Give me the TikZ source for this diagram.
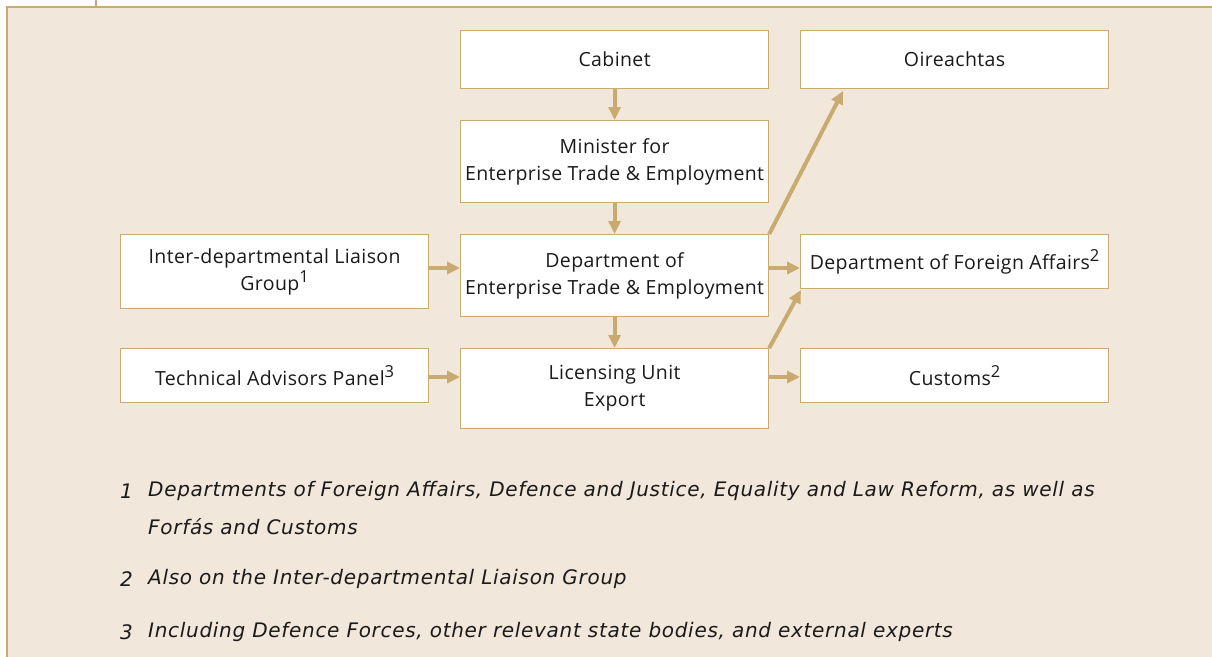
\documentclass[tikz,border=0pt]{standalone}
\usepackage{fontspec}
\setmainfont{Open Sans}
\newfontfamily\notefont{DejaVu Sans}
\usetikzlibrary{arrows.meta}
\definecolor{paper}{HTML}{F1E7DA}
\definecolor{tan}{HTML}{C9AA70}
\definecolor{ink}{HTML}{1A1A1A}
% raised footnote mark inside the boxes
\newcommand\notemark[1]{\raisebox{8pt}{\fontsize{16.5}{16.5}\selectfont #1}}
\begin{document}
\begin{tikzpicture}[x=1pt,y=-1pt,
  orgbox/.style={draw=tan, line width=1.2pt, fill=white, inner sep=0pt, align=center,
    font=\fontsize{19.5}{27}\selectfont\addfontfeature{LetterSpace=2}, text=ink, anchor=north west},
  flow/.style={draw=tan, line width=4pt, -{Triangle[length=13pt,width=12pt]}},
  note/.style={anchor=west, font=\notefont\fontsize{20}{24}\selectfont\itshape\addfontfeature{LetterSpace=3.5}, text=ink, inner sep=0pt}]
\useasboundingbox (0,0) rectangle (1212,656);
% page panel
\fill[paper] (7,7) rectangle (1215,660);
\draw[tan, line width=1.5pt] (7,660) -- (7,7) -- (1215,7);
\draw[tan, line width=1.5pt] (96,-2) -- (96,7);
% boxes
\node[orgbox, minimum width=308pt, minimum height=58pt] (cab) at (460,30) {Cabinet};
\node[orgbox, minimum width=308pt, minimum height=58pt] (oir) at (800,30) {Oireachtas};
\node[orgbox, minimum width=308pt, minimum height=82pt] (min) at (460,120) {Minister for\\Enterprise Trade \& Employment};
\node[orgbox, minimum width=308pt, minimum height=74pt] (ilg) at (120,234) {Inter-departmental Liaison\\Group\notemark{1}};
\node[orgbox, minimum width=308pt, minimum height=82pt] (dep) at (460,234) {Department of\\Enterprise Trade \& Employment};
\node[orgbox, minimum width=308pt, minimum height=54pt] (dfa) at (800,234) {Department of Foreign Affairs\notemark{2}};
\node[orgbox, minimum width=308pt, minimum height=54pt] (tap) at (120,348) {Technical Advisors Panel\notemark{3}};
\node[orgbox, minimum width=308pt, minimum height=80pt] (lic) at (460,348) {Licensing Unit\\Export};
\node[orgbox, minimum width=308pt, minimum height=54pt] (cus) at (800,348) {Customs\notemark{2}};
% connectors
\draw[flow] (cab.south) -- (min.north);
\draw[flow] (min.south) -- (dep.north);
\draw[flow] (dep.south) -- (lic.north);
\draw[flow] (ilg.east |- 0,268) -- (dep.west |- 0,268);
\draw[flow] (tap.east |- 0,377) -- (lic.west |- 0,377);
\draw[flow] (dep.east |- 0,268) -- (dfa.west |- 0,268);
\draw[flow] (lic.east |- 0,377) -- (cus.west |- 0,377);
\coordinate (oirin) at (843,91);
\coordinate (dfain) at (801,290);
\draw[flow] (dep.north east) -- (oirin);
\draw[flow] (lic.north east) -- (dfain);
% notes
\node[note] (n1) at (120,491) {1};
\node[note] (t1) at (148,491) {Departments of Foreign Affairs, Defence and Justice, Equality and Law Reform, as well as};
\node[note] (t1b) at (148,527) {Forfás and Customs};
\node[note] (n2) at (120,579) {2};
\node[note] (t2) at (148,579) {Also on the Inter-departmental Liaison Group};
\node[note] (n3) at (120,632) {3};
\node[note] (t3) at (148,632) {Including Defence Forces, other relevant state bodies, and external experts};
\end{tikzpicture}
\end{document}
